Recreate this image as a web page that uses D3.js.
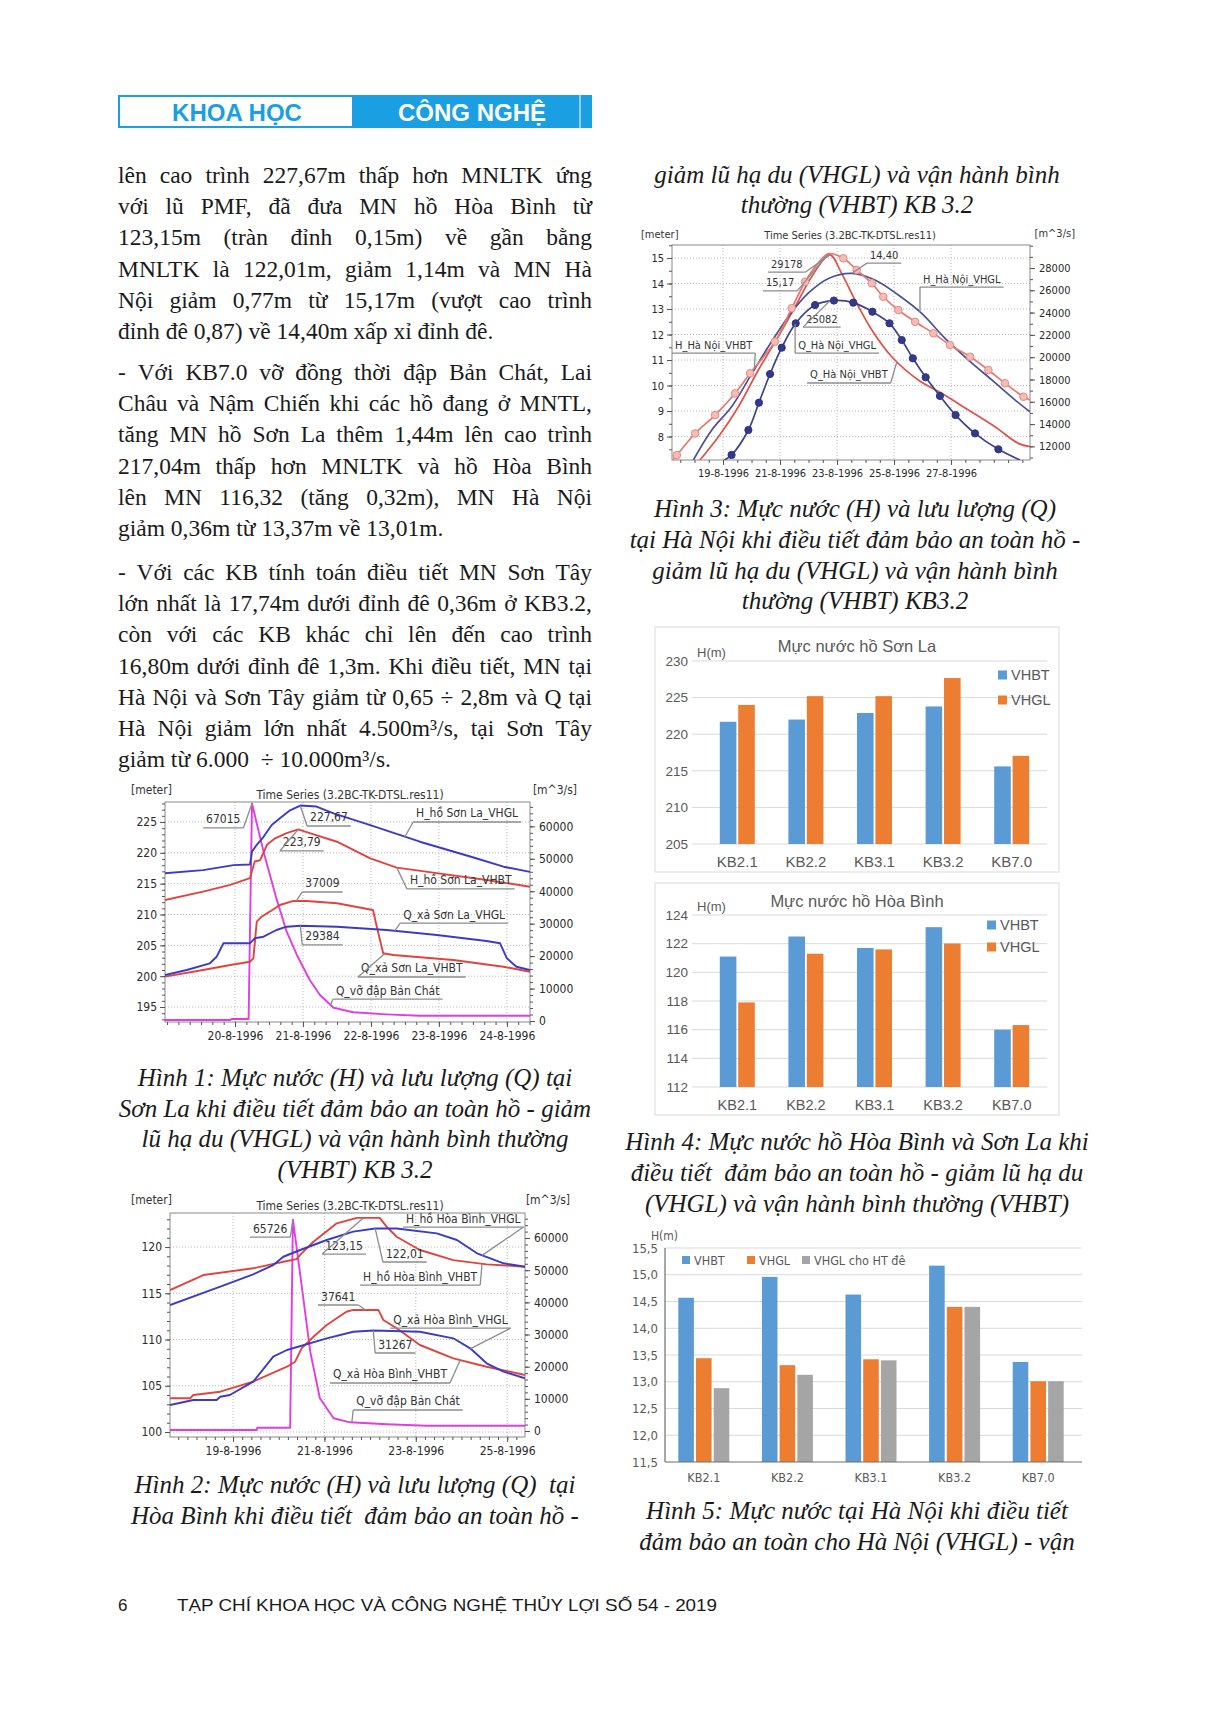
<!DOCTYPE html>
<html>
<head>
<meta charset="utf-8">
<script src="https://cdn.jsdelivr.net/npm/d3@7"></script>
<style>
html,body{margin:0;padding:0;background:#fff;}
svg{display:block;}
</style>
</head>
<body>
<svg id="page" width="1210" height="1712" xmlns="http://www.w3.org/2000/svg"></svg>
<script>
// ================= DATA =================
const headerLeft = "KHOA HỌC";
const headerRight = "CÔNG NGHỆ";
const footerPage = "6";
const footerText = "TẠP CHÍ KHOA HỌC VÀ CÔNG NGHỆ THỦY LỢI SỐ 54 - 2019";

const para1 = [
  "lên cao trình 227,67m thấp hơn MNLTK ứng",
  "với lũ PMF, đã đưa MN hồ Hòa Bình từ",
  "123,15m (tràn đỉnh 0,15m) về gần bằng",
  "MNLTK là 122,01m, giảm 1,14m và MN Hà",
  "Nội giảm 0,77m từ 15,17m (vượt cao trình",
  "đỉnh đê 0,87) về 14,40m xấp xỉ đỉnh đê."
];
const para2 = [
  "- Với KB7.0 vỡ đồng thời đập Bản Chát, Lai",
  "Châu và Nậm Chiến khi các hồ đang ở MNTL,",
  "tăng MN hồ Sơn La thêm 1,44m lên cao trình",
  "217,04m thấp hơn MNLTK và hồ Hòa Bình",
  "lên MN 116,32 (tăng 0,32m), MN Hà Nội",
  "giảm 0,36m từ 13,37m về 13,01m."
];
const para3 = [
  "- Với các KB tính toán điều tiết MN Sơn Tây",
  "lớn nhất là 17,74m dưới đỉnh đê 0,36m ở KB3.2,",
  "còn với các KB khác chỉ lên đến cao trình",
  "16,80m dưới đỉnh đê 1,3m. Khi điều tiết, MN tại",
  "Hà Nội và Sơn Tây giảm từ 0,65 ÷ 2,8m và Q tại",
  "Hà Nội giảm lớn nhất 4.500m³/s, tại Sơn Tây",
  "giảm từ 6.000  ÷ 10.000m³/s."
];
const capTop = ["giảm lũ hạ du (VHGL) và vận hành bình", "thường (VHBT) KB 3.2"];
const cap1 = ["Hình 1: Mực nước (H) và lưu lượng (Q) tại", "Sơn La khi điều tiết đảm bảo an toàn hồ - giảm", "lũ hạ du (VHGL) và vận hành bình thường", "(VHBT) KB 3.2"];
const cap2 = ["Hình 2: Mực nước (H) và lưu lượng (Q)  tại", "Hòa Bình khi điều tiết  đảm bảo an toàn hồ -"];
const cap3 = ["Hình 3: Mực nước (H) và lưu lượng (Q)", "tại Hà Nội khi điều tiết đảm bảo an toàn hồ -", "giảm lũ hạ du (VHGL) và vận hành bình", "thường (VHBT) KB3.2"];
const cap4 = ["Hình 4: Mực nước hồ Hòa Bình và Sơn La khi", "điều tiết  đảm bảo an toàn hồ - giảm lũ hạ du", "(VHGL) và vận hành bình thường (VHBT)"];
const cap5 = ["Hình 5: Mực nước tại Hà Nội khi điều tiết", "đảm bảo an toàn cho Hà Nội (VHGL) - vận"];

// --- Time series (day of August 1996, value) ---
const tsTitle = "Time Series (3.2BC-TK-DTSL.res11)";
// Figure 1: Sơn La
const f1_H_VHGL = [[18.97,216.68],[19.53,217.2],[19.98,218.0],[20.22,218.1],[20.25,220.2],[20.32,221.3],[20.42,222.6],[20.54,224.5],[20.66,225.6],[20.81,226.9],[20.96,227.67],[21.2,227.5],[21.45,226.4],[21.99,224.5],[22.72,221.8],[23.46,219.4],[23.95,217.75],[24.34,216.9]];
const f1_H_VHBT = [[18.97,212.35],[19.53,213.7],[19.93,214.8],[20.22,215.9],[20.29,218.6],[20.37,218.8],[20.47,221.3],[20.59,222.35],[20.76,223.2],[20.93,223.79],[21.1,223.2],[21.5,221.8],[21.99,219.1],[22.38,217.6],[22.97,216.7],[23.7,215.6],[24.34,214.5]];
const f1_Q_VHGL = [[18.97,14185],[19.29,15726],[19.63,17790],[19.73,19826],[19.83,23955],[20.22,23955],[20.29,25500],[20.42,25990],[20.61,28055],[20.76,29070],[20.96,29384],[21.5,29070],[22.23,28055],[22.97,26510],[23.7,24660],[23.9,23955],[24.0,19330],[24.14,16740],[24.34,15726]];
const f1_Q_VHBT = [[18.97,13670],[19.53,15726],[19.93,17270],[20.22,18280],[20.27,19330],[20.32,30610],[20.39,32150],[20.51,33700],[20.66,35760],[20.86,37009],[21.05,36990],[21.5,36280],[22.03,34220],[22.08,29600],[22.18,20870],[22.33,20350],[23.21,18810],[23.95,16740],[24.34,15200]];
const f1_Q_BanChat = [[18.97,316],[19.93,316],[19.95,625],[20.2,625],[20.25,67015],[20.42,52200],[20.61,37720],[20.76,27530],[20.91,20350],[21.1,12640],[21.25,8020],[21.45,4100],[21.74,2690],[22.23,2065],[22.72,1640],[24.34,1640]];
const f1_notes = [
  ["67015", 19.53, 224.03, "r", 20.25, 67015, "R"],
  ["227,67", 21.06, 224.35, "l", 20.96, 227.67, "L"],
  ["223,79", 20.66, 220.3, "l", 20.93, 223.79, "L"],
  ["H_hồ Sơn La_VHGL", 22.62, 225.0, "l", 22.5, 222.6, "L"],
  ["H_hồ Sơn La_VHBT", 22.53, 214.14, "l", 22.38, 217.6, "L"],
  ["37009", 20.99, 213.65, "l", 20.9, 37009, "R"],
  ["Q_xả Sơn La_VHGL", 22.43, 208.6, "l", 22.35, 27800, "R"],
  ["29384", 20.99, 205.06, "l", 20.96, 29384, "R"],
  ["Q_xả Sơn La_VHBT", 21.81, 199.87, "l", 22.2, 20700, "R"],
  ["Q_vỡ đập Bản Chát", 21.44, 196.27, "l", 21.4, 4600, "R"]
];
// Figure 2: Hòa Bình
const f2_H_VHGL = [[17.62,113.73],[18.72,115.71],[19.44,117.05],[19.88,118.05],[20.1,118.95],[20.47,119.68],[21.05,120.76],[21.63,121.66],[22.11,122.01],[22.58,122.0],[23.46,121.48],[23.9,120.76],[24.34,119.32],[24.92,118.24],[25.39,117.87]];
const f2_H_VHBT = [[17.62,115.35],[18.35,116.97],[19.44,117.7],[20.18,118.49],[20.39,118.7],[20.5,119.32],[20.76,120.57],[21.27,122.56],[21.71,123.15],[22.21,123.15],[22.36,122.2],[22.58,121.11],[23.09,119.68],[23.82,118.59],[24.55,118.13],[25.39,117.87]];
const f2_Q_VHGL = [[17.62,8083],[18.13,9638],[18.64,9638],[18.72,10660],[18.93,11190],[19.44,15330],[19.88,23100],[20.18,25180],[21.05,28820],[21.63,30870],[22.07,31267],[23.09,30870],[23.82,28820],[24.19,25710],[24.55,21050],[24.92,18440],[25.39,16380]];
const f2_Q_VHBT = [[17.62,10170],[18.06,10170],[18.13,11190],[18.72,12220],[19.44,15330],[20.18,19990],[20.36,21550],[20.5,25710],[20.76,29320],[21.05,32960],[21.48,37090],[21.63,37641],[22.18,37641],[22.29,34510],[22.58,31930],[23.09,26740],[23.82,22600],[24.55,19990],[25.39,17410]];
const f2_Q_BanChat = [[17.62,311],[19.52,311],[19.53,1030],[20.25,1030],[20.31,65726],[20.5,45390],[20.69,24650],[20.9,10170],[21.2,3950],[21.56,2700],[22.36,2080],[23.24,1650],[25.39,1650]];
const f2_notes = [
  ["65726", 19.37, 121.08, "r", 20.31, 65726, "R"],
  ["H_hồ Hòa Bình_VHGL", 22.72, 122.16, "r", 24.45, 119.1, "L"],
  ["123,15", 20.95, 119.24, "l", 21.85, 123.15, "L"],
  ["122,01", 22.28, 118.38, "l", 22.11, 122.01, "L"],
  ["H_hồ Hòa Bình_VHBT", 21.78, 115.89, "r", 24.45, 118.2, "L"],
  ["37641", 20.86, 113.73, "r", 21.9, 37641, "R"],
  ["Q_xả Hòa Bình_VHGL", 22.44, 111.24, "r", 24.2, 25600, "R"],
  ["31267", 22.11, 108.54, "l", 22.07, 31267, "R"],
  ["Q_xả Hòa Bình_VHBT", 21.12, 105.3, "r", 23.97, 22000, "R"],
  ["Q_vỡ đập Bản Chát", 21.63, 102.38, "l", 21.6, 2650, "R"]
];
// Figure 3: Hà Nội (third item = marker flag)
const f3_H_VHBT = [[17.25,7.1,0],[17.38,7.27,1],[18.02,8.12,1],[18.72,8.84,1],[19.42,9.69,1],[19.95,10.48,1],[20.82,11.72,1],[21.41,13.03,1],[21.88,14.07,1],[22.29,14.73,0],[22.70,15.17,0],[23.22,14.99,1],[23.69,14.53,1],[24.22,14.01,1],[24.62,13.48,1],[25.15,12.96,1],[25.74,12.50,1],[26.38,12.05,1],[26.96,11.59,1],[27.67,11.13,1],[28.31,10.61,1],[28.89,10.09,1],[29.54,9.56,1],[29.77,9.43,0]];
const f3_Q_VHBT = [[18.19,10778],[18.84,12870],[19.54,15560],[20.24,18850],[20.94,21840],[21.53,24530],[22.11,27220],[22.75,29178],[23.16,27520],[23.63,25130],[24.22,22440],[24.92,20040],[25.85,17950],[26.67,16760],[27.61,15260],[28.54,13760],[29.36,12270],[29.77,11970]];
const f3_H_VHGL = [[17.96,7.08],[18.60,8.25],[19.30,9.17],[19.95,10.35],[20.59,11.52],[21.29,12.70],[21.99,13.62],[22.70,14.20],[23.52,14.40],[24.33,14.14],[25.15,13.55],[25.97,12.83],[26.79,11.85],[27.61,11.0],[28.43,10.22],[29.25,9.43],[29.77,8.97]];
const f3_Q_VHGL = [[19.05,10780,0],[19.30,11230,1],[19.89,13470,1],[20.26,15920,1],[20.65,18490,1],[21.06,20850,1],[21.55,23040,1],[22.23,24680,1],[22.89,25082,1],[23.57,24890,1],[24.24,24080,1],[24.84,23040,1],[25.27,21540,1],[25.66,19900,1],[26.11,18200,1],[26.61,16520,1],[27.16,14810,1],[27.84,13170,1],[28.66,11740,1],[29.42,10780,0]];
const f3_notes = [
  ["29178", 20.58, 14.45, "r", 22.75, 29178, "R"],
  ["15,17", 20.40, 13.71, "r", 22.70, 15.17, "L"],
  ["14,40", 24.05, 14.80, "l", 23.52, 14.40, "L"],
  ["H_Hà Nội_VHGL", 25.91, 13.86, "l", 25.91, 12.88, "L"],
  ["25082", 21.81, 12.29, "l", 22.75, 25050, "R"],
  ["H_Hà Nội_VHBT", 17.21, 11.27, "r", 20.1, 10.7, "L"],
  ["Q_Hà Nội_VHGL", 21.53, 11.27, "l", 21.53, 22950, "R"],
  ["Q_Hà Nội_VHBT", 21.95, 10.10, "r", 25.1, 19600, "R"]
];

// --- Bar charts ---
const barCategories = ["KB2.1", "KB2.2", "KB3.1", "KB3.2", "KB7.0"];
const sonLaVHBT = [221.7, 222.0, 222.9, 223.79, 215.6];
const sonLaVHGL = [224.0, 225.2, 225.2, 227.67, 217.04];
const hoaBinhVHBT = [121.1, 122.5, 121.7, 123.15, 116.0];
const hoaBinhVHGL = [117.9, 121.3, 121.6, 122.01, 116.32];
const haNoiVHBT = [14.57, 14.96, 14.63, 15.17, 13.37];
const haNoiVHGL = [13.44, 13.31, 13.42, 14.40, 13.01];
const haNoiVHGLDe = [12.88, 13.13, 13.40, 14.40, 13.01];
const sonLaTicks = [205, 210, 215, 220, 225, 230];
const hoaBinhTicks = [112, 114, 116, 118, 120, 122, 124];
const haNoiTicks = [11.5, 12, 12.5, 13, 13.5, 14, 14.5, 15, 15.5];

// ================= DRAWING =================
const svg = d3.select("#page");
const SERIF = "'Liberation Serif','Times New Roman',serif";
const SANS = "'Liberation Sans',Arial,sans-serif";
const TSF = "'DejaVu Sans Condensed','DejaVu Sans',sans-serif";
const BLUE = "#1a9fe3";
const TXT = "#1a1a1a";

// Header
svg.append("rect").attr("x",119).attr("y",96).attr("width",234).attr("height",31)
  .attr("fill","#fff").attr("stroke",BLUE).attr("stroke-width",2);
svg.append("rect").attr("x",353).attr("y",95).attr("width",239).attr("height",33).attr("fill",BLUE);
svg.append("line").attr("x1",580).attr("x2",580).attr("y1",95).attr("y2",128).attr("stroke","#fff").attr("stroke-width",1);
svg.append("text").attr("x",237).attr("y",121).attr("text-anchor","middle")
  .attr("font-family",SANS).attr("font-weight","bold").attr("font-size",24).attr("fill",BLUE).text(headerLeft);
svg.append("text").attr("x",472).attr("y",121).attr("text-anchor","middle")
  .attr("font-family",SANS).attr("font-weight","bold").attr("font-size",24).attr("fill","#fff").text(headerRight);

// Justified body text
function justified(lines, x0, width, y0, lh, fs) {
  lines.forEach((ln, i) => {
    const y = y0 + i * lh;
    if (i === lines.length - 1) {
      svg.append("text").attr("x", x0).attr("y", y).attr("font-family", SERIF).attr("font-size", fs)
        .attr("fill", TXT).style("white-space", "pre").text(ln);
      return;
    }
    const words = ln.split(/\s+/);
    const els = words.map(w => svg.append("text").attr("y", y).attr("font-family", SERIF)
      .attr("font-size", fs).attr("fill", TXT).text(w));
    const ws = els.map(e => e.node().getComputedTextLength());
    const gap = (width - d3.sum(ws)) / (words.length - 1);
    let cx = x0;
    els.forEach((e, k) => { e.attr("x", cx); cx += ws[k] + gap; });
  });
}
const BODY_FS = 23.5, LH = 31.2, CAP_FS = 25;
justified(para1, 118, 474, 183, LH, BODY_FS);
justified(para2, 118, 474, 380, LH, BODY_FS);
justified(para3, 118, 474, 580, LH, BODY_FS);

// Centered italic captions
function caption(lines, cx, y0, lh) {
  lines.forEach((ln, i) => {
    svg.append("text").attr("x", cx).attr("y", y0 + i * lh).attr("text-anchor", "middle")
      .attr("font-family", SERIF).attr("font-style", "italic").attr("font-size", CAP_FS)
      .attr("fill", TXT).style("white-space", "pre").text(ln);
  });
}
caption(capTop, 857, 183, 30);
caption(cap3, 855, 517, 30.8);
caption(cap1, 355, 1086, 30.5);
caption(cap2, 355, 1493, 31);
caption(cap4, 857, 1150, 31);
caption(cap5, 857, 1519, 31);

// Footer
svg.append("text").attr("x",118).attr("y",1611).attr("font-family",SANS).attr("font-size",17).attr("fill",TXT).text(footerPage);
svg.append("text").attr("x",177).attr("y",1611).attr("font-family",SANS).attr("font-size",17).attr("fill",TXT)
  .attr("textLength",540).attr("lengthAdjust","spacingAndGlyphs").text(footerText);

// ---------- Time series charts ----------
function dt(d) { return new Date(Date.UTC(1996, 7, 1) + (d - 1) * 864e5); }
function minorRange(dom, step) {
  const lo = Math.min(dom[0], dom[1]), hi = Math.max(dom[0], dom[1]);
  return d3.range(Math.ceil(lo / step - 1e-9) * step, hi + 1e-9, step);
}

function drawTS(c) {
  const g = svg.append("g");
  const x = d3.scaleUtc().domain(c.xDom.map(dt)).range([c.left, c.right]);
  const yL = d3.scaleLinear().domain(c.yLDom).range([c.bottom, c.top]);
  const yR = d3.scaleLinear().domain(c.yRDom).range([c.bottom, c.top]);
  const yOf = a => a === "R" ? yR : yL;
  const cid = "clip" + c.id;
  g.append("clipPath").attr("id", cid).append("rect")
    .attr("x", c.left).attr("y", c.top).attr("width", c.right - c.left).attr("height", c.bottom - c.top);

  const grid = g.append("g").attr("stroke", "#b8b8b8").attr("stroke-width", 1).attr("stroke-dasharray", "1,2");
  c.yLTicks.forEach(t => grid.append("line").attr("x1", c.left).attr("x2", c.right).attr("y1", yL(t)).attr("y2", yL(t)));
  c.xTicks.forEach(t => grid.append("line").attr("y1", c.top).attr("y2", c.bottom).attr("x1", x(dt(t))).attr("x2", x(dt(t))));

  g.append("rect").attr("x", c.left).attr("y", c.top).attr("width", c.right - c.left).attr("height", c.bottom - c.top)
    .attr("fill", "none").attr("stroke", "#8a8a8a").attr("stroke-width", 1);

  const sty = sel => {
    sel.select(".domain").remove();
    sel.selectAll("line").attr("stroke", "#555");
    sel.selectAll("text").attr("font-family", TSF).attr("font-size", c.fs).attr("fill", "#2a2a2a");
  };
  g.append("g").attr("transform", `translate(${c.left},0)`)
    .call(d3.axisLeft(yL).tickValues(c.yLTicks).tickSize(5).tickPadding(3).tickFormat(d3.format("d"))).call(sty);
  g.append("g").attr("transform", `translate(${c.left},0)`)
    .call(d3.axisLeft(yL).tickValues(minorRange(c.yLDom, c.yLMinor)).tickSize(3).tickFormat("")).call(sty);
  g.append("g").attr("transform", `translate(${c.right},0)`)
    .call(d3.axisRight(yR).tickValues(c.yRTicks).tickSize(5).tickPadding(4).tickFormat(d3.format("d"))).call(sty);
  g.append("g").attr("transform", `translate(${c.right},0)`)
    .call(d3.axisRight(yR).tickValues(minorRange(c.yRDom, c.yRMinor)).tickSize(3).tickFormat("")).call(sty);
  g.append("g").attr("transform", `translate(0,${c.bottom})`)
    .call(d3.axisBottom(x).tickValues(c.xTicks.map(dt)).tickSize(5).tickPadding(4).tickFormat(d3.utcFormat("%-d-%-m-%Y"))).call(sty);
  g.append("g").attr("transform", `translate(0,${c.bottom})`)
    .call(d3.axisBottom(x).tickValues(minorRange(c.xDom, c.xMinor).map(dt)).tickSize(3).tickFormat("")).call(sty);

  c.series.forEach(s => {
    const ys = yOf(s.axis);
    const line = d3.line().x(d => x(dt(d[0]))).y(d => ys(d[1])).curve(s.curve || d3.curveLinear);
    g.append("path").datum(s.data).attr("d", line).attr("fill", "none").attr("stroke", s.color)
      .attr("stroke-width", s.w || 1.9).attr("stroke-linejoin", "round").attr("clip-path", `url(#${cid})`);
    if (s.marker) {
      g.append("g").selectAll("circle").data(s.data.filter(d => d[2])).join("circle")
        .attr("cx", d => x(dt(d[0]))).attr("cy", d => ys(d[1])).attr("r", s.marker.r)
        .attr("fill", s.marker.fill).attr("stroke", s.marker.stroke).attr("stroke-width", 1);
    }
  });

  c.notes.forEach(n => {
    const [txt, dd, vv, side, ad, av, ax] = n;
    const ux = x(dt(dd)), uy = yL(vv);
    const t = g.append("text").attr("x", ux + 3).attr("y", uy - 4.5).attr("font-family", TSF)
      .attr("font-size", c.fs).attr("fill", "#333").text(txt);
    const w = t.node().getComputedTextLength() + 6;
    g.append("line").attr("x1", ux).attr("x2", ux + w).attr("y1", uy).attr("y2", uy)
      .attr("stroke", "#8c8c8c").attr("stroke-width", 1.3);
    const ex = side === "l" ? ux : ux + w;
    g.append("line").attr("x1", ex).attr("y1", uy).attr("x2", x(dt(ad))).attr("y2", yOf(ax)(av))
      .attr("stroke", "#8c8c8c").attr("stroke-width", 1.3);
  });

  g.append("text").attr("x", c.meter[0]).attr("y", c.meter[1]).attr("font-family", TSF).attr("font-size", c.fs).attr("fill", "#333").text("[meter]");
  g.append("text").attr("x", c.m3[0]).attr("y", c.m3[1]).attr("text-anchor", "end").attr("font-family", TSF).attr("font-size", c.fs).attr("fill", "#333").text("[m^3/s]");
  g.append("text").attr("x", c.title[0]).attr("y", c.title[1]).attr("text-anchor", "middle").attr("font-family", TSF).attr("font-size", c.fs).attr("fill", "#333").text(tsTitle);
}

const cBlue = "#3b3bc4", cRed = "#e0443e", cMag = "#e23de2";
drawTS({
  id: 1, left: 165, right: 530, top: 802, bottom: 1022, fs: 12,
  xDom: [18.97, 24.34], xTicks: [20, 21, 22, 23, 24], xMinor: 1 / 6,
  yLDom: [192.57, 228.24], yLTicks: [195, 200, 205, 210, 215, 220, 225], yLMinor: 1,
  yRDom: [-300, 67500], yRTicks: [0, 10000, 20000, 30000, 40000, 50000, 60000], yRMinor: 2000,
  meter: [131, 794], m3: [577, 794], title: [350, 799],
  series: [
    { data: f1_Q_BanChat, axis: "R", color: cMag },
    { data: f1_Q_VHBT, axis: "R", color: cRed },
    { data: f1_Q_VHGL, axis: "R", color: cBlue },
    { data: f1_H_VHBT, axis: "L", color: cRed },
    { data: f1_H_VHGL, axis: "L", color: cBlue }
  ],
  notes: f1_notes
});
drawTS({
  id: 2, left: 170, right: 525, top: 1213, bottom: 1437, fs: 12,
  xDom: [17.62, 25.39], xTicks: [19, 21, 23, 25], xMinor: 0.2,
  yLDom: [99.46, 123.68], yLTicks: [100, 105, 110, 115, 120], yLMinor: 1,
  yRDom: [-1865, 67780], yRTicks: [0, 10000, 20000, 30000, 40000, 50000, 60000], yRMinor: 2000,
  meter: [131, 1204], m3: [570, 1204], title: [350, 1210],
  series: [
    { data: f2_Q_BanChat, axis: "R", color: cMag },
    { data: f2_Q_VHBT, axis: "R", color: cRed },
    { data: f2_Q_VHGL, axis: "R", color: cBlue },
    { data: f2_H_VHBT, axis: "L", color: cRed },
    { data: f2_H_VHGL, axis: "L", color: cBlue }
  ],
  notes: f2_notes
});
drawTS({
  id: 3, left: 672, right: 1030, top: 245, bottom: 460, fs: 11,
  xDom: [17.21, 29.77], xTicks: [19, 21, 23, 25, 27], xMinor: 0.5,
  yLDom: [7.08, 15.51], yLTicks: [8, 9, 10, 11, 12, 13, 14, 15], yLMinor: 0.5,
  yRDom: [10778, 30063], yRTicks: [12000, 14000, 16000, 18000, 20000, 22000, 24000, 26000, 28000], yRMinor: 1000,
  meter: [641, 238], m3: [1075, 237], title: [850, 239],
  series: [
    { data: f3_Q_VHBT, axis: "R", color: "#e0504a", curve: d3.curveCatmullRom, w: 1.7 },
    { data: f3_H_VHGL, axis: "L", color: "#4b4f96", curve: d3.curveCatmullRom, w: 1.7 },
    { data: f3_H_VHBT, axis: "L", color: "#e8766e", curve: d3.curveCatmullRom, w: 1.7,
      marker: { r: 3.8, fill: "#f6bcb6", stroke: "#e58a82" } },
    { data: f3_Q_VHGL, axis: "R", color: "#3d428c", curve: d3.curveCatmullRom, w: 1.7,
      marker: { r: 3.6, fill: "#343a8a", stroke: "#2e3380" } }
  ],
  notes: f3_notes
});

// ---------- Bar charts ----------
function drawBars(c) {
  const g = svg.append("g");
  if (c.border) g.append("rect").attr("x", c.border[0]).attr("y", c.border[1]).attr("width", c.border[2])
    .attr("height", c.border[3]).attr("fill", "#fff").attr("stroke", "#d9d9d9").attr("stroke-width", 1);
  const x0 = d3.scaleBand().domain(barCategories).range([c.left, c.right]);
  const x1 = d3.scaleBand().domain(c.series.map(s => s.name)).range([0, c.groupW]).paddingInner(c.inner);
  const y = d3.scaleLinear().domain(c.yDom).range([c.bottom, c.top]);
  c.ticks.forEach(t => {
    if (c.skipGrid && t === c.yDom[0]) return;
    g.append("line").attr("x1", c.gridL).attr("x2", c.gridR).attr("y1", y(t)).attr("y2", y(t))
      .attr("stroke", c.gridColor).attr("stroke-width", 1);
  });
  const ya = g.append("g").attr("transform", `translate(${c.axisX},0)`)
    .call(d3.axisLeft(y).tickValues(c.ticks).tickSize(0).tickPadding(c.yPad).tickFormat(c.fmt));
  ya.select(".domain").remove();
  ya.selectAll("text").attr("font-family", c.font).attr("font-size", c.yFs).attr("fill", "#595959");
  c.series.forEach(s => {
    g.append("g").selectAll("rect").data(s.values).join("rect")
      .attr("x", (d, i) => x0(barCategories[i]) + x0.bandwidth() / 2 - c.groupW / 2 + x1(s.name))
      .attr("y", d => y(d)).attr("width", x1.bandwidth())
      .attr("height", d => y(c.yDom[0]) - y(d)).attr("fill", s.color);
  });
  if (c.axisLines) {
    g.append("line").attr("x1", c.gridL).attr("x2", c.gridL).attr("y1", c.top).attr("y2", c.bottom).attr("stroke", "#6f6f6f").attr("stroke-width", 1.2);
    g.append("line").attr("x1", c.gridL).attr("x2", c.gridR).attr("y1", c.bottom).attr("y2", c.bottom).attr("stroke", "#6f6f6f").attr("stroke-width", 1.2);
  }
  const xa = g.append("g").attr("transform", `translate(0,${c.bottom})`)
    .call(d3.axisBottom(x0).tickSize(0).tickPadding(c.xPad));
  xa.select(".domain").remove();
  xa.selectAll("text").attr("font-family", c.font).attr("font-size", c.xFs).attr("fill", "#595959");
  if (c.title) g.append("text").attr("x", c.title[1]).attr("y", c.title[2]).attr("text-anchor", "middle")
    .attr("font-family", c.font).attr("font-size", 16.5).attr("fill", "#595959").text(c.title[0]);
  g.append("text").attr("x", c.hm[0]).attr("y", c.hm[1]).attr("font-family", c.font).attr("font-size", c.hmFs)
    .attr("fill", "#595959").text("H(m)");
  c.series.forEach((s, i) => {
    const [lx, ly] = c.legend[i];
    g.append("rect").attr("x", lx).attr("y", ly - c.sq / 2).attr("width", c.sq).attr("height", c.sq).attr("fill", s.color);
    g.append("text").attr("x", lx + c.sq + 4).attr("y", ly + c.legFs * 0.36).attr("font-family", c.font)
      .attr("font-size", c.legFs).attr("fill", "#595959").text(s.name);
  });
}
const cBT = "#5b9bd5", cGL = "#ed7d31", cDe = "#a5a5a5";
drawBars({
  border: [655, 627, 404, 245], left: 703, right: 1046, top: 661, bottom: 844,
  yDom: [205, 230], ticks: sonLaTicks, gridL: 692, gridR: 1047, gridColor: "#d9d9d9",
  axisX: 692, yPad: 4, fmt: d3.format("d"), font: SANS, yFs: 13.5, xFs: 15, xPad: 12,
  groupW: 35, inner: 0.1, title: ["Mực nước hồ Sơn La", 857, 652], hm: [697, 657], hmFs: 13,
  legend: [[998, 675], [998, 700]], sq: 9, legFs: 14.5,
  series: [{ name: "VHBT", values: sonLaVHBT, color: cBT }, { name: "VHGL", values: sonLaVHGL, color: cGL }]
});
drawBars({
  border: [655, 883, 404, 232], left: 703, right: 1046, top: 915, bottom: 1087,
  yDom: [112, 124], ticks: hoaBinhTicks, gridL: 692, gridR: 1047, gridColor: "#d9d9d9",
  axisX: 692, yPad: 4, fmt: d3.format("d"), font: SANS, yFs: 13.5, xFs: 14.5, xPad: 13,
  groupW: 35, inner: 0.1, title: ["Mực nước hồ Hòa Bình", 857, 907], hm: [697, 911], hmFs: 13,
  legend: [[987, 925], [987, 947]], sq: 9, legFs: 14.5,
  series: [{ name: "VHBT", values: hoaBinhVHBT, color: cBT }, { name: "VHGL", values: hoaBinhVHGL, color: cGL }]
});
drawBars({
  left: 662, right: 1080, top: 1248, bottom: 1462,
  yDom: [11.5, 15.5], ticks: haNoiTicks, gridL: 665, gridR: 1082, gridColor: "#d9d9d9", skipGrid: true,
  axisX: 665, yPad: 7, fmt: d => d.toFixed(1).replace(".", ","), font: TSF, yFs: 13, xFs: 12.5, xPad: 11,
  groupW: 51, inner: 0.12, axisLines: true, hm: [651, 1240], hmFs: 12,
  legend: [[682, 1260], [747, 1260], [802, 1260]], sq: 8, legFs: 12.5,
  series: [{ name: "VHBT", values: haNoiVHBT, color: cBT }, { name: "VHGL", values: haNoiVHGL, color: cGL },
           { name: "VHGL cho HT đê", values: haNoiVHGLDe, color: cDe }]
});
</script>
</body>
</html>
